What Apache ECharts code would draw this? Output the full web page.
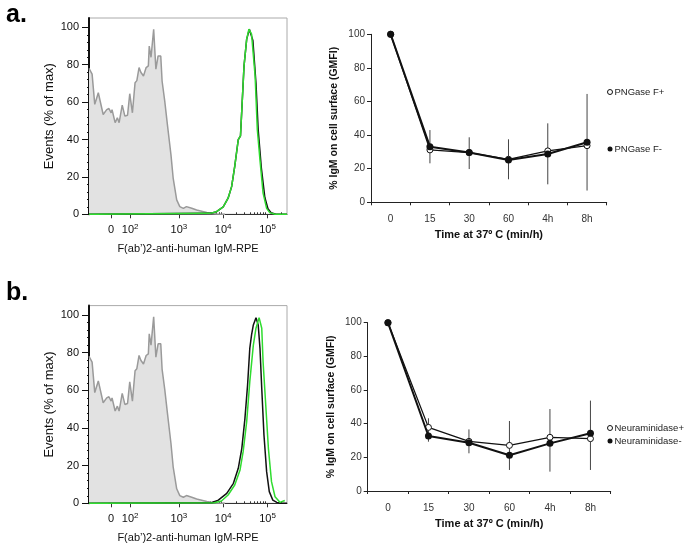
<!DOCTYPE html>
<html>
<head>
    <meta charset="utf-8">
    <title>IgM surface</title>
    <script src="https://cdn.jsdelivr.net/npm/echarts@6/dist/echarts.min.js"></script>
</head>
<body style="margin:0;background:#fff">
    <div id="main" style="width: 685px;height:546px;"></div>
    <script type="text/javascript">
    var myChart = echarts.init(document.getElementById('main'));

    // histogram x in display units (decades: 3 = 10^3)
    var histTickPos = [1.47, 1.9, 3, 4, 5];
    var histTickLabels = ['0{p|\u200b}', '10{s|2}', '10{s|3}', '10{s|4}', '10{s|5}'];
    var histYTicks = [0, 20, 40, 60, 80, 100];

    // unstained control (same in both panels)
    var grayHist = [[0.97, 78], [0.99, 77.6], [1.04, 75], [1.10, 58.8], [1.18, 65], [1.29, 53.4], [1.37, 56],
        [1.42, 56.6], [1.47, 54.3], [1.49, 56], [1.56, 49], [1.61, 51.6], [1.65, 49], [1.72, 58.4], [1.78, 52.5],
        [1.84, 53], [1.89, 64.5], [1.95, 54.3], [2.01, 70.4], [2.05, 71.5], [2.10, 78.5], [2.14, 76], [2.20, 74],
        [2.26, 78.5], [2.31, 79.4], [2.33, 90], [2.37, 84], [2.43, 99], [2.48, 77.6], [2.53, 84.7], [2.59, 84.7],
        [2.62, 71.3], [2.68, 60.5], [2.74, 48], [2.82, 31.9], [2.87, 19.4], [2.95, 7.7], [3.02, 4.1], [3.10, 3.2],
        [3.17, 4.1], [3.29, 3.2], [3.40, 2.3], [3.63, 1], [3.85, 0.2], [4.04, 0]];

    var greenHistA = [[0.97, 0], [3.70, 0.5], [3.85, 1.4], [4.00, 4], [4.11, 8.6], [4.19, 14.8], [4.26, 25.6],
        [4.34, 40], [4.39, 42], [4.42, 56], [4.47, 79.4], [4.53, 93.7], [4.58, 99], [4.64, 96.4], [4.72, 74],
        [4.77, 45.3], [4.83, 29], [4.90, 11.3], [4.98, 3.2], [5.05, 0.9], [5.17, 0], [5.44, 0]];
    var blackHistA = [[0.97, 0], [3.70, 0.5], [3.85, 1.4], [4.00, 4], [4.11, 8.6], [4.19, 14.8], [4.26, 25.6],
        [4.34, 40], [4.39, 42], [4.42, 56], [4.47, 79.4], [4.53, 93.7], [4.59, 99], [4.67, 93], [4.74, 70],
        [4.79, 45], [4.86, 25], [4.94, 9], [5.01, 3], [5.08, 0.8], [5.19, 0], [5.44, 0]];

    var greenHistB = [[0.97, 0], [3.80, 0.3], [3.96, 1.2], [4.11, 4.4], [4.26, 9.7], [4.38, 17.7], [4.45, 27.4],
        [4.53, 43.3], [4.60, 64.6], [4.68, 84], [4.74, 93], [4.81, 98.6], [4.87, 93], [4.90, 75.2], [4.96, 52.2],
        [5.02, 29.2], [5.09, 11.5], [5.17, 3.5], [5.28, 0.5], [5.39, 1.5]];
    var blackHistB = [[0.97, 0], [3.75, 0.4], [3.89, 1.7], [4.08, 5.3], [4.23, 10.6], [4.34, 18.6], [4.42, 29.2],
        [4.49, 45], [4.55, 62.8], [4.60, 82.3], [4.64, 89.4], [4.68, 94.7], [4.74, 98.6], [4.79, 94.7], [4.83, 82.3],
        [4.87, 61], [4.92, 36.3], [4.98, 16.8], [5.04, 6.2], [5.12, 1.7], [5.21, 0.5], [5.30, 0], [5.44, 0]];

    // time course
    var times = ['0', '15', '30', '60', '4h', '8h'];
    var pngasePlus = [100, 31.2, 29.6, 25.6, 30.6, 33.7];
    var pngaseMinus = [100, 33.1, 29.6, 25.2, 28.8, 35.7];
    var pngaseErr = [[1, 23.2, 43], [2, 19.8, 38.7], [3, 13.7, 37.5], [4, 10.7, 47], [5, 7, 64.5]];
    var neuraPlus = [100, 37.8, 29.5, 27.1, 31.9, 31.1];
    var neuraMinus = [100, 32.7, 28.7, 21.2, 28.3, 34.3];
    var neuraErr = [[1, 29.3, 43.2], [2, 22.4, 36.6], [3, 12.5, 41.6], [4, 11.5, 48.7], [5, 12.5, 53.7]];

    var FONT = 'Liberation Sans, Arial, sans-serif';

    var minorX = [];
    [2, 3, 4, 5].forEach(function (k) {
        for (var m = 2; m <= 9; m++) {
            var v = k + Math.log10(m);
            if (v < 5.44) minorX.push(v);
        }
    });
    var minorY = [];
    for (var i = 4; i < 100; i += 4) { if (i % 20) minorY.push(i); }

    function histX(grid) {
        return [{
            type: 'value', gridIndex: grid, min: 0.97, max: 5.44,
            name: 'F(ab\u2019)2-anti-human IgM-RPE', nameLocation: 'middle', nameGap: 29,
            nameTextStyle: {fontSize: 11, color: '#111', fontFamily: FONT},
            axisLine: {lineStyle: {color: '#333', width: 1}},
            axisTick: {show: true, length: 4, customValues: histTickPos, lineStyle: {color: '#333'}},
            axisLabel: {customValues: histTickPos, margin: 8, fontSize: 11, color: '#111', fontFamily: FONT,
                rich: {
                    s: {fontSize: 8, padding: [0, 0, 7, 0], color: '#111', fontFamily: FONT},
                    p: {fontSize: 8, padding: [0, 0, 7, 0], color: '#111', fontFamily: FONT}
                },
                formatter: function (v) { return histTickLabels[histTickPos.indexOf(v)]; }},
            splitLine: {show: false}
        }, {
            type: 'value', gridIndex: grid, min: 0.97, max: 5.44,
            axisLine: {show: false}, axisLabel: {show: false}, splitLine: {show: false},
            axisTick: {show: true, length: 2, customValues: minorX, lineStyle: {color: '#333'}}
        }];
    }
    function histY(grid) {
        return [{
            type: 'value', gridIndex: grid, position: 'left', min: 0, max: 105,
            name: 'Events (% of max)', nameLocation: 'middle', nameGap: 33,
            nameTextStyle: {fontSize: 13, color: '#111', fontFamily: FONT},
            axisLine: {show: true, lineStyle: {color: '#111', width: 2}},
            axisTick: {show: true, length: 7, customValues: histYTicks, lineStyle: {color: '#111'}},
            axisLabel: {customValues: histYTicks, margin: 10, fontSize: 11, color: '#111', fontFamily: FONT},
            splitLine: {show: false}
        }, {
            type: 'value', gridIndex: grid, position: 'left', min: 0, max: 105,
            axisLine: {show: false}, axisLabel: {show: false}, splitLine: {show: false},
            axisTick: {show: true, length: 2, customValues: minorY, lineStyle: {color: '#111'}}
        }];
    }
    function timeX(grid) {
        return {
            type: 'category', gridIndex: grid, data: times, boundaryGap: true,
            name: 'Time at 37º C (min/h)', nameLocation: 'middle', nameGap: 27,
            nameTextStyle: {fontSize: 11, fontWeight: 'bold', color: '#111', fontFamily: FONT},
            axisLine: {lineStyle: {color: '#222', width: 1}},
            axisTick: {show: true, length: 3, lineStyle: {color: '#222'}},
            axisLabel: {margin: 12, fontSize: 10, color: '#333', fontFamily: FONT}
        };
    }
    function timeY(grid) {
        return {
            type: 'value', gridIndex: grid, min: 0, max: 100, interval: 20,
            name: '% IgM on cell surface (GMFI)', nameLocation: 'middle', nameGap: 31,
            nameTextStyle: {fontSize: 10.5, fontWeight: 'bold', color: '#111', fontFamily: FONT},
            axisLine: {show: true, lineStyle: {color: '#222', width: 1}},
            axisTick: {show: true, length: 4, lineStyle: {color: '#222'}},
            axisLabel: {margin: 6, fontSize: 10, color: '#333', fontFamily: FONT},
            splitLine: {show: false}
        };
    }

    function histSeries(xi, yi, green, black) {
        return [{
            type: 'line', xAxisIndex: xi, yAxisIndex: yi, data: grayHist, symbol: 'none', silent: true,
            lineStyle: {color: '#9a9a9a', width: 1.5}, areaStyle: {color: '#e2e2e2', opacity: 1}, z: 2
        }, {
            type: 'line', xAxisIndex: xi, yAxisIndex: yi, data: black, symbol: 'none', silent: true,
            lineStyle: {color: '#111', width: 1.5}, z: 3
        }, {
            type: 'line', xAxisIndex: xi, yAxisIndex: yi, data: green, symbol: 'none', silent: true,
            lineStyle: {color: '#2fdc2f', width: 1.5}, z: 4
        }];
    }

    function errSeries(xi, yi, data) {
        return {
            type: 'custom', xAxisIndex: xi, yAxisIndex: yi, data: data, silent: true, z: 1,
            encode: {x: 0, y: [1, 2]},
            renderItem: function (params, api) {
                var lo = api.coord([api.value(0), api.value(1)]);
                var hi = api.coord([api.value(0), api.value(2)]);
                return {type: 'line', shape: {x1: lo[0], y1: lo[1], x2: hi[0], y2: hi[1]},
                    style: {stroke: '#444', lineWidth: 1}};
            }
        };
    }

    function timeSeries(xi, yi, plusName, plus, minusName, minus) {
        return [{
            name: plusName, type: 'line', xAxisIndex: xi, yAxisIndex: yi, data: plus,
            symbol: 'circle', symbolSize: 6, z: 3,
            lineStyle: {color: '#111', width: 1.3},
            itemStyle: {color: '#fff', borderColor: '#111', borderWidth: 1}
        }, {
            name: minusName, type: 'line', xAxisIndex: xi, yAxisIndex: yi, data: minus,
            symbol: 'circle', symbolSize: 7, z: 4,
            lineStyle: {color: '#111', width: 2},
            itemStyle: {color: '#111'}
        }];
    }

    function legendFor(names, top, gap, size) {
        return {
            orient: 'vertical', left: 602, top: top, itemGap: gap, itemWidth: 5, itemHeight: 5,
            textStyle: {fontSize: size, color: '#222', fontFamily: FONT, padding: [0, 0, 0, -3]},
            selectedMode: false,
            data: [
                {name: names[0], icon: 'circle', itemStyle: {color: '#fff', borderColor: '#111', borderWidth: 1}},
                {name: names[1], icon: 'circle', itemStyle: {color: '#111'}}
            ]
        };
    }

    var option = {
        animation: false,
        backgroundColor: '#fff',
        textStyle: {fontFamily: FONT},
        title: [
            {text: 'a.', left: 1, top: -2, textStyle: {fontSize: 25, fontWeight: 'bold', color: '#000', fontFamily: FONT}},
            {text: 'b.', left: 1, top: 276, textStyle: {fontSize: 25, fontWeight: 'bold', color: '#000', fontFamily: FONT}}
        ],
        grid: [
            {left: 89, top: 18, width: 198, height: 196.3, show: true, borderColor: '#aaa', borderWidth: 1, outerBoundsMode: 'none'},
            {left: 371, top: 34.3, width: 235.7, height: 168, outerBoundsMode: 'none'},
            {left: 89, top: 305.6, width: 198, height: 197.7, show: true, borderColor: '#aaa', borderWidth: 1, outerBoundsMode: 'none'},
            {left: 367.7, top: 322.7, width: 243, height: 168.3, outerBoundsMode: 'none'}
        ],
        xAxis: [].concat(histX(0), [timeX(1)], histX(2), [timeX(3)]),
        yAxis: [].concat(histY(0), [timeY(1)], histY(2), [timeY(3)]),
        legend: [
            legendFor(['PNGase F+', 'PNGase F-'], 82, 47, 9.5),
            legendFor(['Neuraminidase+', 'Neuraminidase-'], 418, 3, 9.5)
        ],
        series: [].concat(
            histSeries(0, 0, greenHistA, blackHistA),
            [errSeries(2, 2, pngaseErr)],
            timeSeries(2, 2, 'PNGase F+', pngasePlus, 'PNGase F-', pngaseMinus),
            histSeries(3, 3, greenHistB, blackHistB),
            [errSeries(5, 5, neuraErr)],
            timeSeries(5, 5, 'Neuraminidase+', neuraPlus, 'Neuraminidase-', neuraMinus)
        )
    };

    myChart.setOption(option);
    </script>
</body>
</html>
